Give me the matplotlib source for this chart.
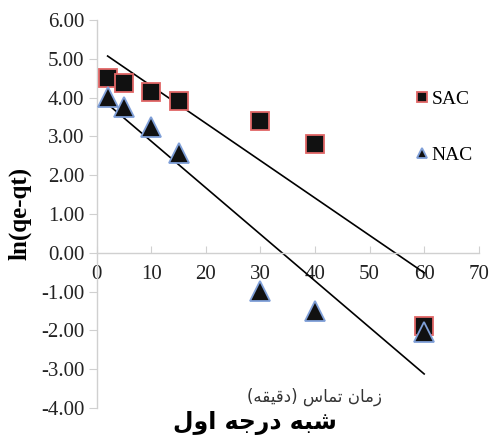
import numpy as np
import matplotlib
matplotlib.use("Agg")
import matplotlib.pyplot as plt

plt.rcParams['axes.unicode_minus'] = False

# Data
time_min = [2, 5, 10, 15, 30, 40, 60]
sac = [4.50, 4.38, 4.15, 3.90, 3.40, 2.80, -1.90]
nac = [4.02, 3.75, 3.25, 2.58, -0.98, -1.50, -2.05]
x_ticks = [0, 10, 20, 30, 40, 50, 60, 70]
y_ticks = [-4, -3, -2, -1, 0, 1, 2, 3, 4, 5, 6]
series_names = ["SAC", "NAC"]
y_label = "ln(qe-qt)"

# Arabic text in visual (left-to-right) order with presentation forms
x_title = "(\uFEEA\uFED8\uFEF4\uFED7\uFEA9) \uFEB1\uFE8E\uFEE4\uFE97 \uFEE5\uFE8E\uFEE3\uFEAF"
main_title = "\uFEDD\uFEED\uFE8D \uFEEA\uFE9F\uFEAD\uFEA9 \uFEEA\uFE92\uFEB7"

serif = ['Liberation Serif', 'DejaVu Serif']

fig = plt.figure(figsize=(4.91, 4.42), dpi=100)
ax = fig.add_axes([0.197, 0.077, 0.778, 0.878])

x = np.array(time_min, dtype=float)
p_sac = ax.plot(x, sac, linestyle='none', marker='s', markersize=13.5,
                markerfacecolor='#111111', markeredgecolor='#e06666',
                markeredgewidth=1.3, label=series_names[0], zorder=3)[0]
p_nac = ax.plot(x, nac, linestyle='none', marker='^', markersize=14,
                markerfacecolor='#111111', markeredgecolor='#7f9fd8',
                markeredgewidth=1.3, label=series_names[1], zorder=3)[0]

# Linear trend lines
for ys in (sac, nac):
    m, b = np.polyfit(x, np.array(ys, dtype=float), 1)
    xs = np.array([x.min(), x.max()])
    ax.plot(xs, m * xs + b, color='black', linewidth=1.2, zorder=2)

ax.set_xlim(0, 70)
ax.set_ylim(-4, 6)
ax.set_xticks(x_ticks)
ax.set_yticks(y_ticks)
ax.set_yticklabels([f"{v:.2f}" for v in y_ticks])
ax.set_xticklabels([str(v) for v in x_ticks])

for s in ('top', 'right'):
    ax.spines[s].set_visible(False)
ax.spines['bottom'].set_position(('data', 0))
for s in ('left', 'bottom'):
    ax.spines[s].set_color('#d0d0d0')
    ax.spines[s].set_linewidth(1.0)

ax.tick_params(axis='y', direction='out', length=6, color='#d0d0d0',
               labelsize=15, pad=3)
ax.tick_params(axis='x', direction='in', length=5, color='#d0d0d0',
               labelsize=15, pad=9)
for lab in ax.get_xticklabels() + ax.get_yticklabels():
    lab.set_family(serif)
    lab.set_color('#222222')

ax.set_ylabel(y_label, fontsize=18, fontweight='bold', family=serif)
ax.yaxis.set_label_coords(-0.17, 0.50)

leg = fig.legend(handles=[p_sac, p_nac], loc='upper left',
                 bbox_to_anchor=(0.812, 0.836), frameon=False,
                 markerscale=0.5, handlelength=0.6, handletextpad=0.2,
                 labelspacing=2.0, prop={'family': serif, 'size': 14})

fig.text(0.64, 0.102, x_title, ha='center', va='center', fontsize=12,
         family=['DejaVu Sans'], color='#333333')
fig.text(0.519, 0.043, main_title, ha='center', va='center', fontsize=17,
         fontweight='bold', family=['DejaVu Sans'], color='black')

fig.savefig('out.png', dpi=100)
